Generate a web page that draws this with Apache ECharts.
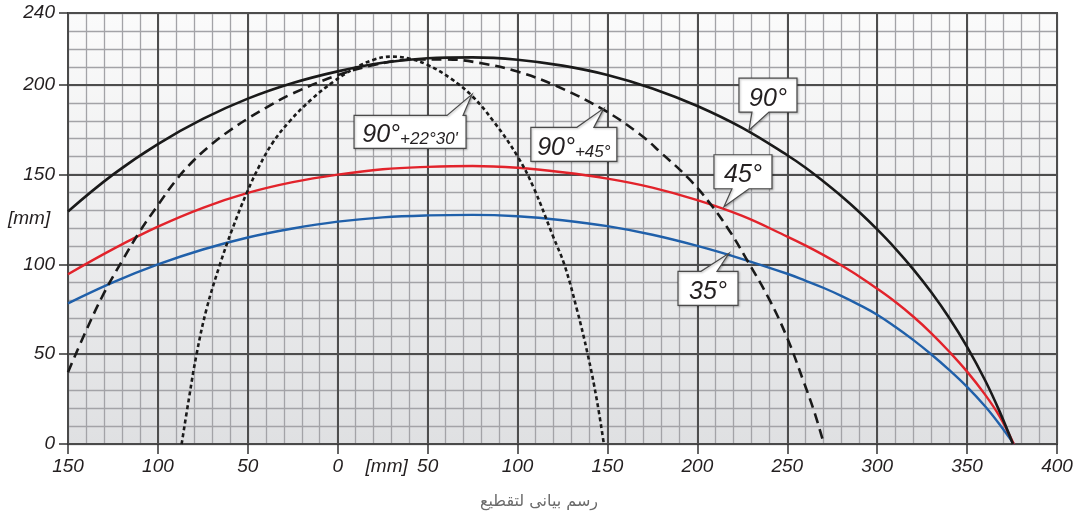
<!DOCTYPE html>
<html><head><meta charset="utf-8">
<script src="https://cdn.jsdelivr.net/npm/echarts@6/dist/echarts.min.js"></script>
<style>html,body{margin:0;padding:0;background:#fff}#c{width:1078px;height:520px}</style>
</head><body><div id="c"></div>
<script>
// ---- data (x in mm, y in mm) ----
const curve90 = [[-150,129.5],[-125,150],[-100,167],[-75,181],[-50,192.3],[-25,201],[0,207.5],[25,212.3],[50,214.8],[75,215.3],[100,214],[125,210.7],[150,205.5],[175,198],[200,188.2],[225,176],[250,160.8],[260,154],[270,146.3],[280,138.1],[290,129.2],[300,119.5],[310,109],[320,97.4],[330,84.6],[340,70.3],[350,54.1],[360,35.5],[368,18.3],[375.5,0]];
const curve45 = [[-150,94.5],[-125,108.5],[-100,121],[-75,131.5],[-50,139.8],[-25,145.8],[0,150],[25,153],[50,154.3],[75,154.8],[100,153.8],[125,151.3],[150,147.8],[175,142.8],[200,135.8],[225,127],[250,115.5],[260,110.6],[270,105.3],[280,99.5],[290,93.3],[300,86.5],[310,79.2],[320,71],[330,61.8],[340,51.5],[350,40.3],[360,27.5],[368,15.5],[376,0]];
const curve35 = [[-150,78.3],[-125,90],[-100,100],[-75,108.3],[-50,115],[-25,120],[0,123.8],[25,126.2],[50,127.3],[75,127.6],[100,126.8],[125,124.6],[150,121.3],[175,116.5],[200,110.3],[225,103],[250,94.8],[260,91],[270,87],[280,82.5],[290,77.5],[300,72],[310,65.3],[320,58],[330,50],[340,41.3],[350,31.8],[360,21],[368,11],[376,0]];
const curve90p45 = [[-150,40],[-140,63],[-130,84],[-120,101.8],[-110,118.5],[-100,133],[-90,146.8],[-80,158],[-70,167],[-60,174.6],[-50,181.2],[-40,187.2],[-25,195.2],[0,205.4],[20,211],[40,214],[60,214.2],[80,212],[100,207.4],[122,199.2],[148,186],[168,172.5],[180,162],[195,148],[207,134],[218,118.5],[227,103.5],[240,80.5],[250,59],[259,35],[265,18],[270.4,0]];
const curve90p22 = [[-86.8,0],[-82.8,25],[-78.5,50],[-73,75],[-65.5,100],[-58.5,120],[-50.5,140],[-43.5,155],[-36,168],[-26.5,180],[-14.5,192],[-2,202],[9,209],[20,214],[30,215.7],[40,214.5],[50,211.1],[62.6,203.7],[74.6,193.9],[86.7,179.6],[100,160.2],[109,142.6],[120,115],[126,100],[133,75],[139,50],[144,25],[148,0]];
const xTicks = [-150,-100,-50,0,50,100,150,200,250,300,350,400];
const yTicks = [0,50,100,150,200,240];
const calloutMain = ['90°','90°','90°','45°','35°'];
const calloutSub = ["+22°30'",'+45°','','',''];
const calloutTips = [[74.7,194.7],[148,186.9],[228.7,174.8],[214.8,132.1],[217.6,106.2]];
const xUnit = '[mm]', yUnit = '[mm]';
const caption = 'رسم بيانى لتقطيع';

const FONT = 'Liberation Sans';
const TXT = '#231f20';
const chart = echarts.init(document.getElementById('c'));
const labStyle = {fontSize:19, fontStyle:'italic', fontFamily:FONT, color:TXT};
const lineCommon = {type:'line', showSymbol:false, smooth:0.4};
const option = {
  animation:false,
  backgroundColor:'#fff',
  title:{text:caption, left:'center', top:489, textStyle:{fontSize:16, fontWeight:'normal', color:'#6a6a6a', fontFamily:'DejaVu Sans'}},
  grid:{left:68, right:21, top:13, bottom:76, show:true, z:-1,
    backgroundColor:{type:'linear',x:0,y:0,x2:0,y2:1,colorStops:[{offset:0,color:'#fbfbfb'},{offset:1,color:'#dfe0e2'}]},
    borderColor:'#4a4a4a', borderWidth:2},
  xAxis:[
    {type:'value', min:xTicks[0], max:xTicks[xTicks.length-1], interval:50, position:'bottom', z:1,
      axisLine:{show:true, onZero:false, lineStyle:{color:'#4a4a4a', width:2}},
      axisTick:{show:true, length:10, lineStyle:{color:'#333', width:1.5}},
      axisLabel:Object.assign({margin:13, formatter:v=>String(Math.abs(v)), showMinLabel:true, showMaxLabel:true}, labStyle),
      splitLine:{show:true, lineStyle:{color:'#4d4d4d', width:2}}},
    {type:'value', min:xTicks[0], max:xTicks[xTicks.length-1], interval:10, position:'bottom', z:0,
      axisLine:{show:false}, axisTick:{show:false}, axisLabel:{show:false},
      splitLine:{show:true, lineStyle:{color:'#a3a3a7', width:1.3}}}
  ],
  yAxis:[
    {type:'value', min:yTicks[0], max:yTicks[yTicks.length-1], interval:50, position:'left', z:1,
      axisLine:{show:true, onZero:false, lineStyle:{color:'#4a4a4a', width:2}},
      axisTick:{show:true, length:9, lineStyle:{color:'#333', width:1.5}},
      axisLabel:Object.assign({margin:13, showMinLabel:true, showMaxLabel:true}, labStyle),
      splitLine:{show:true, lineStyle:{color:'#4d4d4d', width:2}}},
    {type:'value', min:yTicks[0], max:yTicks[yTicks.length-1], interval:10, position:'left', z:0,
      axisLine:{show:false}, axisTick:{show:false}, axisLabel:{show:false},
      splitLine:{show:true, lineStyle:{color:'#a3a3a7', width:1.3}}}
  ],
  series:[
    Object.assign({name:'35°', data:curve35, z:5, lineStyle:{color:'#2060aa', width:2.4}}, lineCommon),
    Object.assign({name:'45°', data:curve45, z:5, lineStyle:{color:'#e2232b', width:2.4}}, lineCommon),
    Object.assign({name:'90°', data:curve90, z:6, lineStyle:{color:'#1a1a1a', width:2.6}}, lineCommon),
    Object.assign({name:'90°+45°', data:curve90p45, z:6, lineStyle:{color:'#1a1a1a', width:2.6, type:[10,6]}}, lineCommon),
    Object.assign({name:"90°+22°30'", data:curve90p22, z:6, lineStyle:{color:'#1a1a1a', width:2.6, type:[4,3]}}, lineCommon)
  ]
};
chart.setOption(option);

// callout boxes: offsets (px) relative to pointer tip
const boxes = [
  {dx:-118, dy:21, w:112, h:33, b1:-25, b2:-9, side:'top'},
  {dx:-73, dy:19, w:86, h:34, b1:-27, b2:-10, side:'top'},
  {dx:-10, dy:-52, w:58, h:34, b1:3, b2:20, side:'bottom'},
  {dx:-10, dy:-52, w:58, h:34, b1:8, b2:25, side:'bottom'},
  {dx:-51, dy:18, w:60, h:34, b1:-28, b2:-12, side:'top'}
];
const gfx = [];
calloutTips.forEach((t,i)=>{
  const p = chart.convertToPixel({xAxisIndex:0,yAxisIndex:0}, t);
  const b = boxes[i];
  const L=p[0]+b.dx, T=p[1]+b.dy, R=L+b.w, B=T+b.h;
  let pts;
  if (b.side==='top') pts=[[L,T],[p[0]+b.b1,T],[p[0],p[1]],[p[0]+b.b2,T],[R,T],[R,B],[L,B]];
  else pts=[[L,T],[R,T],[R,B],[p[0]+b.b2,B],[p[0],p[1]],[p[0]+b.b1,B],[L,B]];
  gfx.push({type:'polygon', shape:{points:pts}, z:100, style:{fill:'#ffffff', stroke:'#4a4a4a', lineWidth:1.2, shadowColor:'rgba(0,0,0,0.25)', shadowBlur:2, shadowOffsetX:1, shadowOffsetY:1}});
  const txt = calloutSub[i] ? '{a|'+calloutMain[i]+'}{b|'+calloutSub[i]+'}' : '{a|'+calloutMain[i]+'}';
  gfx.push({type:'text', x:(L+R)/2, y:(T+B)/2+1, z:101, style:{text:txt, align:'center', verticalAlign:'middle',
    rich:{a:{fontSize:25, fontStyle:'italic', fontFamily:FONT, fill:TXT, color:TXT, lineHeight:30, verticalAlign:'bottom'},
          b:{fontSize:17, fontStyle:'italic', fontFamily:FONT, fill:TXT, color:TXT, lineHeight:22, verticalAlign:'bottom'}}}});
});
const xu = chart.convertToPixel({xAxisIndex:0}, 27.2);
gfx.push({type:'text', x:xu, y:467, z:50, style:{text:xUnit, align:'center', verticalAlign:'middle', font:'italic 19px "Liberation Sans"', fill:TXT}});
const yu = chart.convertToPixel({yAxisIndex:0}, 125.3);
gfx.push({type:'text', x:8, y:yu, z:50, style:{text:yUnit, align:'left', verticalAlign:'middle', font:'italic 19px "Liberation Sans"', fill:TXT}});
chart.setOption({graphic:gfx});
</script></body></html>
